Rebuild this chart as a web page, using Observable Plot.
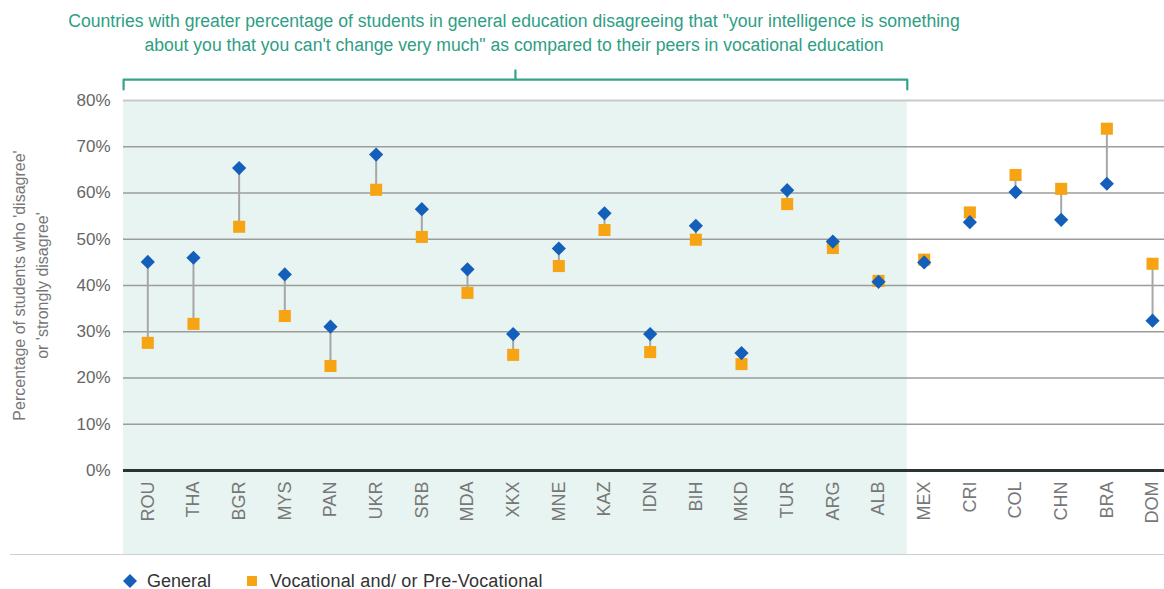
<!DOCTYPE html>
<html>
<head>
<meta charset="utf-8">
<script src="https://cdn.jsdelivr.net/npm/d3@7"></script>
<script src="https://cdn.jsdelivr.net/npm/@observablehq/plot@0.6"></script>
<style>
  body { margin: 0; background: #fff; font-family: "Liberation Sans", Arial, sans-serif; }
  #title { width: 1028px; height: 60px; box-sizing: border-box; padding-top: 9px; text-align: center;
           color: #2e9e84; font-size: 17.6px; line-height: 24px; }
  #chart svg { display: block; }
  #legend { margin-left: 10px; border-top: 1.5px solid #cfcfcf; height: 34px; position: relative;
            font-size: 18px; color: #333; }
  .item { position: absolute; top: 15px; line-height: 22px; display: flex; align-items: center; }
  .item svg { display: block; }
</style>
</head>
<body>
<div id="title">Countries with greater percentage of students in general education disagreeing that "your intelligence is something<br>about you that you can't change very much" as compared to their peers in vocational education</div>
<div id="chart"></div>
<div id="legend">
  <div class="item" style="left:112px"><svg width="16" height="16"><path d="M8 1 L15 8 L8 15 L1 8 Z" fill="#145fb9"/></svg><span style="margin-left:9px">General</span></div>
  <div class="item" style="left:237px"><svg width="10" height="10"><rect width="10" height="10" fill="#f6a414"/></svg><span style="margin-left:13px;letter-spacing:0.2px">Vocational and/ or Pre-Vocational</span></div>
</div>
<script>
const countries = ["ROU","THA","BGR","MYS","PAN","UKR","SRB","MDA","XKX","MNE","KAZ","IDN","BIH","MKD","TUR","ARG","ALB","MEX","CRI","COL","CHN","BRA","DOM"];
const general    = [45.1,46.0,65.4,42.4,31.1,68.3,56.5,43.5,29.5,48.0,55.6,29.5,52.9,25.4,60.6,49.5,40.8,45.0,53.7,60.2,54.2,62.0,32.4];
const vocational = [27.6,31.7,52.7,33.4,22.6,60.7,50.5,38.4,25.0,44.2,52.0,25.6,49.9,23.0,57.6,48.1,41.0,45.6,55.8,63.9,60.9,73.9,44.7];
const yTicks = [0,10,20,30,40,50,60,70,80];
const highlightLast = "ALB";

const rows = countries.map((c, i) => ({i, country: c, general: general[i], vocational: vocational[i]}));
const lastIdx = countries.indexOf(highlightLast);
const groupLeft = -0.53, groupRight = lastIdx + 0.63;
const teal = "#34a389";

const chart = Plot.plot({
  width: 1164, height: 494,
  marginTop: 40, marginBottom: 84, marginLeft: 123, marginRight: 0,
  style: {fontFamily: '"Liberation Sans", Arial, sans-serif', background: "transparent", overflow: "visible"},
  x: {domain: [-0.532, 22.262], axis: null},
  y: {domain: [0, 80], axis: null},
  marks: [
    Plot.rect([0], {x1: groupLeft, x2: groupRight, fill: "#e8f4f1", insetBottom: -84}),
    Plot.ruleY(yTicks.filter(d => d > 0 && d < 80), {stroke: "#9c9c9c", strokeWidth: 1.5}),
    Plot.ruleY([80], {stroke: "#c9c9c9", strokeWidth: 2}),
    Plot.ruleY([0], {stroke: "#2b3333", strokeWidth: 3}),
    Plot.axisY({ticks: yTicks, tickFormat: d => d + "%", tickSize: 0, tickPadding: 13, fontSize: 17, fill: "#666", label: null}),
    Plot.axisX({ticks: d3.range(countries.length), tickFormat: i => countries[i], tickRotate: -90, tickSize: 0, tickPadding: 11, fontSize: 18, fill: "#777", label: null}),
    Plot.text(["Percentage of students who 'disagree'\nor 'strongly disagree'"], {frameAnchor: "left", rotate: -90, dx: -94.5, fontSize: 16, fill: "#777", lineHeight: 1.44, textAnchor: "middle"}),
    Plot.link(rows, {x1: "i", x2: "i", y1: "general", y2: "vocational", stroke: "#a6a6a6", strokeWidth: 2}),
    Plot.dot(rows, {x: "i", y: "vocational", symbol: "square", r: 6.8, fill: "#f6a414"}),
    Plot.dot(rows, {x: "i", y: "general", symbol: "diamond2", r: 6.4, fill: "#145fb9"}),
    Plot.line([{x: groupLeft, y: 82.4}, {x: groupLeft, y: 84.5}, {x: groupRight, y: 84.5}, {x: groupRight, y: 82.4}],
      {x: "x", y: "y", stroke: teal, strokeWidth: 2.2}),
    Plot.ruleX([(groupLeft + groupRight) / 2], {y1: 84.5, y2: 86.6, stroke: teal, strokeWidth: 2.2})
  ]
});
document.getElementById("chart").appendChild(chart);
</script>
</body>
</html>
